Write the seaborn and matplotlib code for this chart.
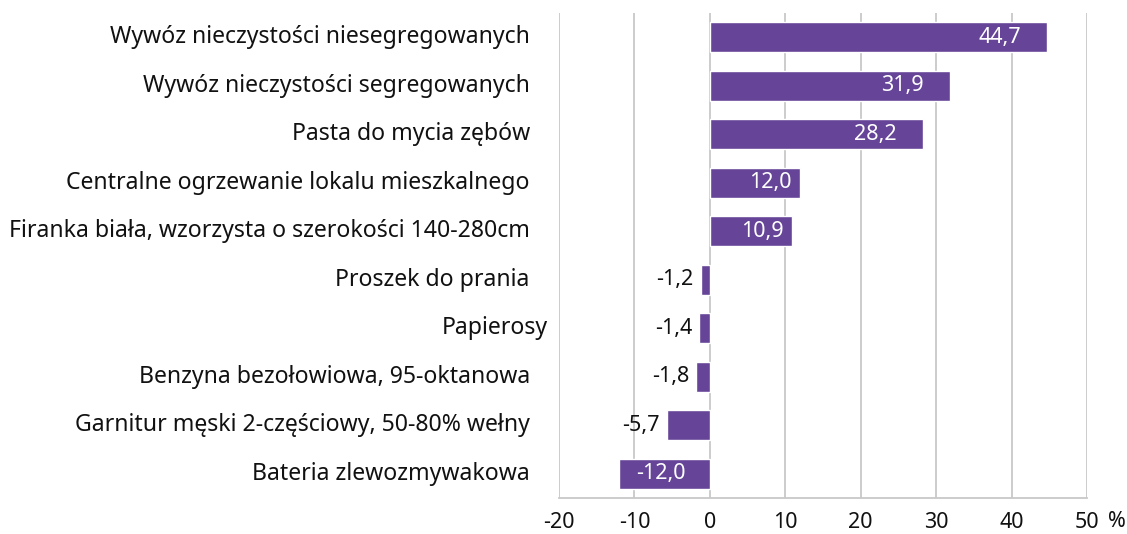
import matplotlib
matplotlib.use("Agg")
import matplotlib.pyplot as plt
import matplotlib.transforms as mtransforms
import pandas as pd
import seaborn as sns

CATEGORIES = [
    "Wywóz nieczystości niesegregowanych",
    "Wywóz nieczystości segregowanych",
    "Pasta do mycia zębów",
    "Centralne ogrzewanie lokalu mieszkalnego",
    "Firanka biała, wzorzysta o szerokości 140-280cm",
    "Proszek do prania",
    "Papierosy",
    "Benzyna bezołowiowa, 95-oktanowa",
    "Garnitur męski 2-częściowy, 50-80% wełny",
    "Bateria zlewozmywakowa",
]
VALUES = [44.7, 31.9, 28.2, 12.0, 10.9, -1.2, -1.4, -1.8, -5.7, -12.0]
X_TICKS = [-20, -10, 0, 10, 20, 30, 40, 50]

BAR_COLOR = "#664599"
GRID_COLOR = "#c8c8c8"
TEXT_COLOR = "#111111"
FONT = ["Noto Sans", "DejaVu Sans"]


def fmt(v):
    return f"{v:.1f}".replace(".", ",")


def main():
    sns.set_theme(style="white")
    plt.rcParams["font.family"] = FONT

    df = pd.DataFrame({"kategoria": CATEGORIES, "zmiana": VALUES})

    fig = plt.figure(figsize=(11.27, 5.34), dpi=100)
    ax = fig.add_axes([0.496, 0.0674, 0.4685, 0.9083])

    sns.barplot(data=df, y="kategoria", x="zmiana", color=BAR_COLOR,
                saturation=1, width=0.62, orient="h", ax=ax, zorder=3)

    ax.set_xlim(-20, 50)
    ax.set_ylim(len(CATEGORIES) - 0.5, -0.5)
    ax.set_xticks(X_TICKS)
    ax.set_xticklabels([str(t) for t in X_TICKS], fontsize=15.5, color=TEXT_COLOR)
    ax.tick_params(axis="x", length=0, pad=10)
    ax.tick_params(axis="y", length=0)
    ax.set_yticklabels([])
    ax.set_xlabel("")
    ax.set_ylabel("")
    ax.grid(axis="x", color=GRID_COLOR, linewidth=1.3, zorder=0)
    ax.set_axisbelow(True)
    for side in ["left", "right", "top"]:
        ax.spines[side].set_visible(False)
    ax.spines["bottom"].set_color(GRID_COLOR)
    ax.spines["bottom"].set_linewidth(1.3)

    # nazwy kategorii po lewej
    lab_trans = mtransforms.blended_transform_factory(ax.transAxes, ax.transData)
    for i, name in enumerate(CATEGORIES):
        shift = -8 if name == "Papierosy" else -21
        ax.annotate(name, xy=(0, i), xycoords=lab_trans,
                    xytext=(shift, 0), textcoords="offset points",
                    ha="right", va="center", fontsize=16.6, color=TEXT_COLOR)

    # etykiety wartości
    for i, v in enumerate(VALUES):
        if v >= 20:
            ax.annotate(fmt(v), xy=(v, i), xytext=(-19, 0), textcoords="offset points",
                        ha="right", va="center", fontsize=15.5, color="white", zorder=4)
        elif v > 0:
            ax.annotate(fmt(v), xy=(v, i), xytext=(-6, 0), textcoords="offset points",
                        ha="right", va="center", fontsize=15.5, color="white", zorder=4)
        elif v > -10:
            ax.annotate(fmt(v), xy=(v, i), xytext=(-5, 0), textcoords="offset points",
                        ha="right", va="center", fontsize=15.5, color=TEXT_COLOR, zorder=4)
        else:
            ax.annotate(fmt(v), xy=(v / 2, i), xytext=(-3, 0), textcoords="offset points",
                        ha="center", va="center", fontsize=15.5, color="white", zorder=4)

    # znak procentu za ostatnią podziałką
    ax.annotate("%", xy=(1, 0), xycoords="axes fraction", xytext=(15, -9),
                textcoords="offset points", ha="left", va="top",
                fontsize=15.5, color=TEXT_COLOR)

    fig.savefig("out.png", dpi=100)
    plt.close(fig)


if __name__ == "__main__":
    main()
